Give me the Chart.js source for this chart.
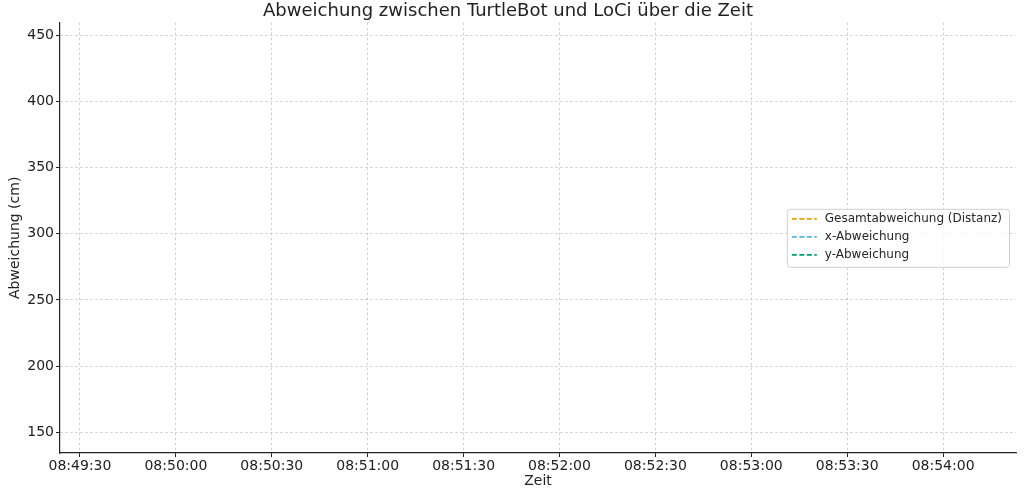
<!DOCTYPE html>
<html>
<head>
<meta charset="utf-8">
<script src="https://cdn.jsdelivr.net/npm/chart.js@4"></script>
<style>
  html, body { margin: 0; padding: 0; background: #fff; }
  #wrap { width: 1024px; height: 490px; }
</style>
</head>
<body>
<div id="wrap"><canvas id="myChart"></canvas></div>
<script>
// time axis ticks (seconds since midnight) and their labels
var timeTicks = [31770, 31800, 31830, 31860, 31890, 31920, 31950, 31980, 32010, 32040];
var timeLabels = ["08:49:30", "08:50:00", "08:50:30", "08:51:00", "08:51:30", "08:52:00", "08:52:30", "08:53:00", "08:53:30", "08:54:00"];
var yTicks = [150, 200, 250, 300, 350, 400, 450];

// series: nothing is drawn inside the visible window of the reference
var gesamtData = [];
var xData = [];
var yData = [];

var seriesNames = ["Gesamtabweichung (Distanz)", "x-Abweichung", "y-Abweichung"];
var seriesColors = ["#E69F00", "#56B4E9", "#009E73"];

var FONT = "'DejaVu Sans', sans-serif";

function fmtTime(v) {
    var i = timeTicks.indexOf(v);
    return i >= 0 ? timeLabels[i] : "";
}

// matplotlib style legend box, center right inside the axes
var boxLegend = {
    id: "boxLegend",
    afterDraw: function (chart) {
        var ctx = chart.ctx;
        var area = chart.chartArea;
        var sets = chart.data.datasets;
        ctx.save();
        ctx.font = "12px " + FONT;
        var maxW = 0;
        for (var i = 0; i < sets.length; i++) {
            maxW = Math.max(maxW, ctx.measureText(sets[i].label).width);
        }
        var rowH = 18;
        var w = 5 + 25 + 8 + maxW + 7;
        var h = 10 + rowH * (sets.length - 1) + 12;
        var x = area.right - 7 - w;
        var y = (area.top + area.bottom) / 2 - h / 2;

        ctx.beginPath();
        ctx.roundRect(x + 0.5, y + 0.5, w, h, 3);
        ctx.fillStyle = "rgba(255,255,255,0.8)";
        ctx.fill();
        ctx.strokeStyle = "#d0d0d0";
        ctx.lineWidth = 1;
        ctx.stroke();

        for (var i = 0; i < sets.length; i++) {
            var cy = y + 10 + i * rowH;
            ctx.beginPath();
            ctx.setLineDash([5, 2.5]);
            ctx.strokeStyle = sets[i].borderColor;
            ctx.lineWidth = 1.8;
            ctx.moveTo(x + 5, cy);
            ctx.lineTo(x + 30, cy);
            ctx.stroke();
            ctx.setLineDash([]);
            ctx.fillStyle = "#262626";
            ctx.textBaseline = "middle";
            ctx.textAlign = "left";
            ctx.fillText(sets[i].label, x + 38, cy);
        }
        ctx.restore();
    }
};

var chartCtx = document.getElementById("myChart");
var myChart = new Chart(chartCtx, {
    type: "line",
    data: {
        datasets: [
            { label: seriesNames[0], data: gesamtData, borderColor: seriesColors[0], borderDash: [5, 2.5], borderWidth: 1.6, pointRadius: 0, fill: false },
            { label: seriesNames[1], data: xData, borderColor: seriesColors[1], borderDash: [5, 2.5], borderWidth: 1.6, pointRadius: 0, fill: false },
            { label: seriesNames[2], data: yData, borderColor: seriesColors[2], borderDash: [5, 2.5], borderWidth: 1.6, pointRadius: 0, fill: false },
        ],
    },
    options: {
        responsive: true,
        maintainAspectRatio: false,
        animation: false,
        layout: { padding: { left: 0, right: 8, top: 0, bottom: 0 } },
        plugins: {
            legend: { display: false },
            tooltip: { enabled: false },
            title: {
                display: true,
                text: "Abweichung zwischen TurtleBot und LoCi über die Zeit",
                color: "#222",
                font: { family: FONT, size: 18, weight: "normal" },
                padding: { top: 1, bottom: 0 },
            },
        },
        scales: {
            x: {
                type: "linear",
                min: 31763.75,
                max: 32062.8,
                afterBuildTicks: function (scale) {
                    scale.ticks = timeTicks.map(function (v) { return { value: v }; });
                },
                afterFit: function (scale) { scale.height = 37; },
                ticks: {
                    autoSkip: false,
                    maxRotation: 0,
                    padding: 1,
                    color: "#222",
                    font: { family: FONT, size: 14 },
                    callback: function (v) { return fmtTime(v); },
                },
                grid: {
                    color: "#c4c4c4",
                    lineWidth: 0.8,
                    tickLength: 4,
                    tickColor: "#222",
                    tickWidth: 1,
                    tickBorderDash: [],
                },
                border: { display: true, color: "#222", width: 1.2, dash: [2.5, 2.5] },
                title: {
                    display: true,
                    text: "Zeit",
                    color: "#222",
                    font: { family: FONT, size: 14 },
                    padding: { top: 2, bottom: 0 },
                },
            },
            y: {
                type: "linear",
                min: 134.2,
                max: 459.8,
                afterBuildTicks: function (scale) {
                    scale.ticks = yTicks.map(function (v) { return { value: v }; });
                },
                afterFit: function (scale) { scale.width = 60; },
                ticks: {
                    padding: 2,
                    color: "#222",
                    font: { family: FONT, size: 14 },
                },
                grid: {
                    color: "#c4c4c4",
                    lineWidth: 0.8,
                    tickLength: 4,
                    tickColor: "#222",
                    tickWidth: 1,
                    tickBorderDash: [],
                },
                border: { display: true, color: "#222", width: 1.2, dash: [2.5, 2.5] },
                title: {
                    display: true,
                    text: "Abweichung (cm)",
                    color: "#222",
                    font: { family: FONT, size: 14 },
                    padding: { top: 7, bottom: 0 },
                },
            },
        },
    },
    plugins: [boxLegend],
});
</script>
</body>
</html>
